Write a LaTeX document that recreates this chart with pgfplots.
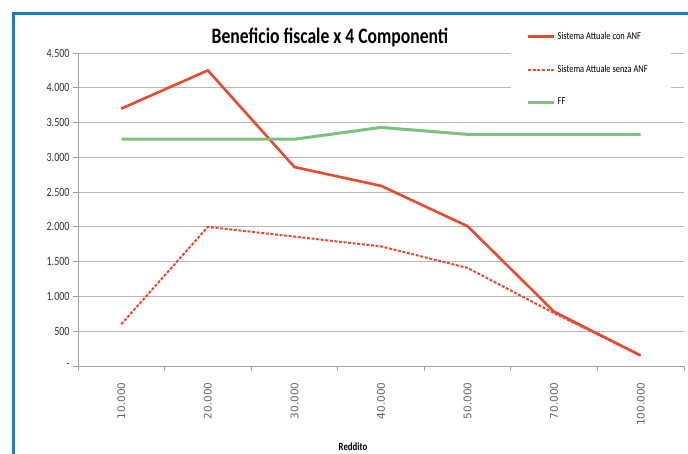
\documentclass[border=0pt]{standalone}
\usepackage{pgfplots}
\pgfplotsset{compat=1.18}
\usepackage{graphicx}
\usepackage{fontspec}
\setmainfont{Carlito}
\newfontfamily\dejavu{DejaVu Sans}
\definecolor{conANF}{HTML}{E84A2E}
\definecolor{ffgreen}{HTML}{7CC27C}
\definecolor{gridc}{HTML}{BDB6B6}
\definecolor{axc}{HTML}{A59E9E}
\definecolor{frameblue}{HTML}{1E78D0}
\newcommand{\sq}[1]{\scalebox{0.8}[1]{#1}}
\begin{document}
\begin{tikzpicture}[x=1pt,y=1pt]
\clip (0,0) rectangle (688,454);
\fill[white] (0,0) rectangle (688,454);
\draw[frameblue, line width=3.5pt] (13.5,0) -- (13.5,440.5) -- (688,440.5);
\begin{axis}[
  at={(78pt,88pt)}, anchor=south west,
  scale only axis, width=606pt, height=313pt,
  xmin=-0.5, xmax=6.5, ymin=0, ymax=4500,
  clip=false,
  axis x line*=bottom, axis y line*=left,
  axis line style={axc, line width=0.8pt, -},
  xtick={0,...,6},
  xticklabels={10.000,20.000,30.000,40.000,50.000,70.000,100.000},
  major x tick style={draw=none},
  minor xtick={-0.5,0.5,...,6.5},
  minor tick length=5pt,
  minor x tick style={axc, line width=0.8pt},
  xticklabel style={font=\dejavu\fontsize{10.5}{12}\selectfont, color=black!60, rotate=90, anchor=east},
  xticklabel shift=8pt,
  ytick={0,500,...,4500},
  yticklabels={\sq{-},\sq{500},\sq{1.000},\sq{1.500},\sq{2.000},\sq{2.500},\sq{3.000},\sq{3.500},\sq{4.000},\sq{4.500}},
  yticklabel style={font=\fontsize{12.5}{14}\selectfont, color=black!80},
  major tick length=5pt,
  tick align=outside,
  y tick style={axc, line width=0.8pt},
  ymajorgrids, grid style={gridc, line width=0.8pt},
  legend style={draw=none, fill=none, at={(0.74,1.073)}, anchor=north west,
    font=\fontsize{10.5}{12}\selectfont, row sep=20pt, inner sep=0pt},
  legend cell align=left,
  legend image code/.code={\draw[#1] (0pt,0pt) -- (26pt,0pt);},
]
\fill[white] (axis description cs:0.7145,0.805) rectangle (axis description cs:0.979,1.11);
\addplot[conANF, line width=2.6pt] coordinates {(0,3700) (1,4250) (2,2860) (3,2590) (4,2010) (5,780) (6,150)};
\addlegendentry{\sq{Sistema Attuale con ANF}}
\addplot[conANF, line width=2pt, dash pattern=on 3pt off 1.6pt] coordinates {(0,600) (1,2000) (2,1860) (3,1720) (4,1410) (5,760) (6,150)};
\addlegendentry{\sq{Sistema Attuale senza ANF}}
\addplot[ffgreen, line width=3pt] coordinates {(0,3260) (1,3260) (2,3260) (3,3430) (4,3330) (5,3330) (6,3330)};
\addlegendentry{\sq{FF}}
\end{axis}
\node[font=\bfseries\fontsize{22}{26}\selectfont] at (330,416) {\sq{Beneficio fiscale x 4 Componenti}};
\node[font=\bfseries\fontsize{11}{13}\selectfont] at (353,7.5) {\sq{Reddito}};
\end{tikzpicture}
\end{document}
